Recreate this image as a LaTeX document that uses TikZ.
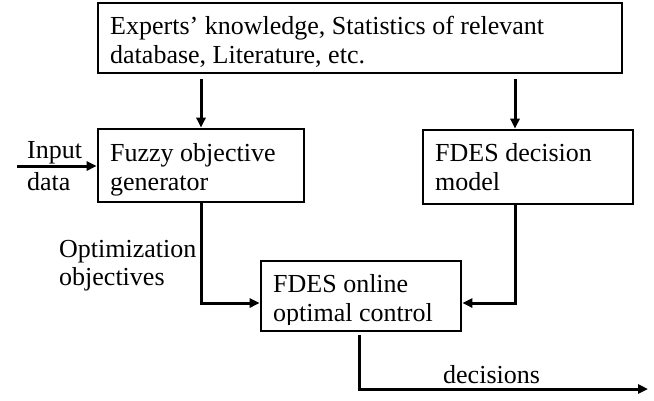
\documentclass[tikz,border=0pt]{standalone}
\usepackage{fontspec}
\setmainfont{Liberation Serif}
\usetikzlibrary{arrows.meta,fit}
\begin{document}
\begin{tikzpicture}[x=1pt,y=-1pt,
  box/.style={draw,line width=2.6pt,inner sep=0pt},
  txt/.style={anchor=base west,inner sep=0pt,align=left,font=\fontsize{26}{29}\selectfont},
  conn/.style={line width=3pt,-{Triangle[length=10pt,width=9pt]}},
  plain/.style={line width=3pt}]
\useasboundingbox (0,0) rectangle (654,400);
% boxes
\node[box,fit={(98,3) (622,73)}] (top) {};
\node[box,fit={(98,129) (304,202)}] (fuzzy) {};
\node[box,fit={(423,130) (633,204)}] (model) {};
\node[box,fit={(261,261) (461,331)}] (online) {};
% box texts (anchored at last line baseline)
\node[txt] (ttop) at (110,63) {Experts’ knowledge, Statistics of relevant\\database, Literature, etc.};
\node[txt] (tfuzzy) at (110,190) {Fuzzy objective\\generator};
\node[txt] (tmodel) at (435,190) {FDES decision\\model};
\begin{scope}
\clip (262,262) rectangle (460,324);
\node[txt] (tonline) at (273,321) {FDES online\\optimal control};
\end{scope}
% labels
\node[txt,font=\fontsize{26}{32}\selectfont] (linput) at (27,190) {Input\\data};
\node[txt,font=\fontsize{26}{28}\selectfont] (lopt) at (59,285) {Optimization\\objectives};
\node[txt] (ldec) at (443,383) {decisions};
% coordinates
\coordinate (inStart) at (17,166);
\coordinate (decEnd) at (648,389);
% connectors
\draw[conn] ([yshift=-5pt]top.south -| fuzzy.north) -- (fuzzy.north);
\draw[conn] ([yshift=-5pt]top.south -| 515,0) -- (model.north -| 515,0);
\draw[conn] (inStart) -- (inStart -| fuzzy.west);
\draw[conn] (fuzzy.south) |- (online.west |- 0,303);
\draw[conn] (model.south -| 515,0) |- (online.east |- 0,303);
\draw[conn] ([yshift=-3pt]online.south -| 359,0) |- (decEnd);
\end{tikzpicture}
\end{document}
